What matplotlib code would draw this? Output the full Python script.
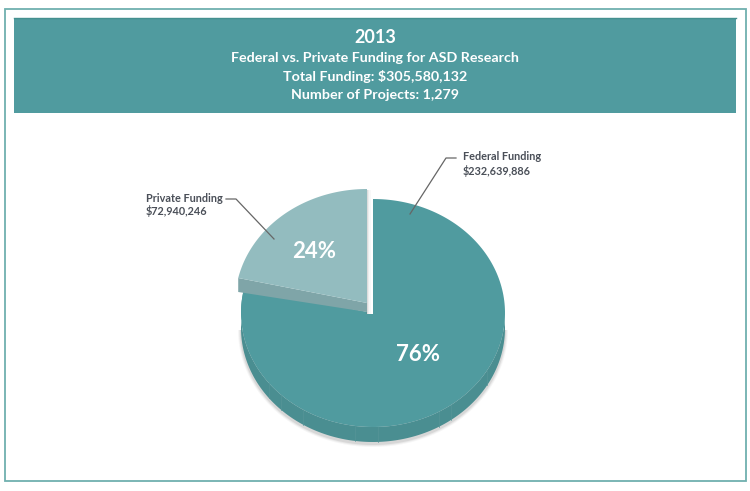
import numpy as np
import matplotlib
matplotlib.use("Agg")
import matplotlib.pyplot as plt
from matplotlib.patches import Rectangle, Polygon

# dados
year = "2013"
subtitle = "Federal vs. Private Funding for ASD Research"
total_text = "Total Funding: $305,580,132"
projects_text = "Number of Projects: 1,279"
categories = ["Federal Funding", "Private Funding"]
amounts = [232639886, 72940246]
amount_labels = ["$232,639,886", "$72,940,246"]
pct_labels = ["76%", "24%"]

TEAL = "#509b9f"
TEAL_SIDE = "#4a8e91"
LIGHT = "#93bcbf"
LIGHT_SIDE = "#7fa5a8"
TEXT = "#4a4f58"
FONT = "Lato"

# fake 3d pie: squashed ellipse + shifted side
RX, RY, DEPTH = 132, 114, 15
CENTER = (373, 313)
EXPLODE = (-6, -10)
ANGLE_SHIFT = -8.6  # perspective moves the split a little


def wedge_xy(cx, cy, a0, a1, rx=RX, ry=RY, n=200):
    t = np.radians(np.linspace(a0, a1, n))
    xs = cx + rx * np.cos(t)
    ys = cy - ry * np.sin(t)
    return np.column_stack([np.r_[cx, xs], np.r_[cy, ys]])


def side_xy(cx, cy, a0, a1, depth=DEPTH, n=200):
    # only the part of the rim facing the viewer
    t = np.radians(np.linspace(a0, a1, n))
    xs = cx + RX * np.cos(t)
    ys = cy - RY * np.sin(t)
    top = np.column_stack([xs, ys])
    bot = np.column_stack([xs, ys + depth])[::-1]
    return np.vstack([top, bot])


def main():
    fig = plt.figure(figsize=(7.5, 4.91), dpi=100)
    ax = fig.add_axes([0, 0, 1, 1])
    ax.set_xlim(0, 750)
    ax.set_ylim(491, 0)
    ax.axis("off")

    # moldura e banner
    ax.add_patch(Rectangle((4.5, 9), 741.5, 472, fc="white", ec="#6fb0af", lw=1.3))
    ax.add_patch(Rectangle((13.5, 17.5), 722.5, 95.5, fc=TEAL, ec="none"))
    ax.plot([13.5, 736], [18, 18], color="#44908f", lw=1)
    ax.text(375, 37, year, color="white", ha="center", va="center", fontsize=13,
            fontweight="bold", family=FONT)
    for txt, y in zip([subtitle, total_text, projects_text], [57.5, 76, 94.5]):
        ax.text(375, y, txt, color="white", ha="center", va="center", fontsize=10.25,
                fontweight="bold", family=FONT)

    share = amounts[1] / sum(amounts)
    split = 90 + 360 * share + ANGLE_SHIFT
    cx, cy = CENTER
    px, py = cx + EXPLODE[0], cy + EXPLODE[1]

    # sombra
    for i, alpha in enumerate([0.05, 0.08, 0.12]):
        grow = 3 - i
        ax.add_patch(Polygon(wedge_xy(cx, cy + DEPTH + 2, 180, 360, RX + grow, RY + grow),
                             fc="#555555", ec="none", alpha=alpha))

    # fatia federal
    ax.add_patch(Polygon(side_xy(cx, cy, split, 360), fc=TEAL_SIDE, ec="none"))
    ax.add_patch(Polygon(wedge_xy(cx, cy, split, 450), fc=TEAL, ec="none"))

    # riscos claros na lateral
    for a in [218, 226, 238, 262, 272, 300, 306, 330]:
        t = np.radians(a)
        x = cx + RX * np.cos(t)
        y = cy - RY * np.sin(t)
        ax.plot([x, x], [y, y + DEPTH], color="#569598", lw=0.5)

    # fatia privada
    ax.add_patch(Rectangle((px, py - RY + 1), 5.5, RY + DEPTH - 5, fc="white", ec="none"))
    for grow, alpha in [(3.5, 0.05), (2.2, 0.08), (1.0, 0.14)]:
        ax.add_patch(Rectangle((px - 1, py - RY + 1), 1 + grow, RY + DEPTH - 5,
                               fc="#777777", ec="none", alpha=alpha))
    t = np.radians(split)
    sx, sy = px + RX * np.cos(t), py - RY * np.sin(t)
    ax.add_patch(Polygon([[sx, sy], [px, py], [px, py + DEPTH - 6], [sx, sy + DEPTH - 1]],
                         fc=LIGHT_SIDE, ec="none"))
    ax.add_patch(Polygon(wedge_xy(px, py, 90, split), fc=LIGHT, ec="none"))

    # porcentagens
    ax.text(418, 354.5, pct_labels[0], color="white", ha="center", va="center", fontsize=16,
            fontweight="bold", family=FONT)
    ax.text(314, 251.5, pct_labels[1], color="white", ha="center", va="center", fontsize=16,
            fontweight="bold", family=FONT)

    # rotulos
    ax.plot([456, 446, 410], [158, 158, 214], color="#666666", lw=0.9)
    ax.text(463, 157, categories[0], color=TEXT, ha="left", va="center", fontsize=7.8,
            fontweight="bold", family=FONT)
    ax.text(463, 171, amount_labels[0], color=TEXT, ha="left", va="center", fontsize=7.8,
            fontweight="bold", family=FONT)

    ax.plot([226, 236, 274], [199, 199, 239], color="#666666", lw=0.9)
    ax.text(146, 198, categories[1], color=TEXT, ha="left", va="center", fontsize=7.8,
            fontweight="bold", family=FONT)
    ax.text(146, 211, amount_labels[1], color=TEXT, ha="left", va="center", fontsize=7.8,
            fontweight="bold", family=FONT)

    fig.savefig("out.png", dpi=100)


if __name__ == "__main__":
    main()
